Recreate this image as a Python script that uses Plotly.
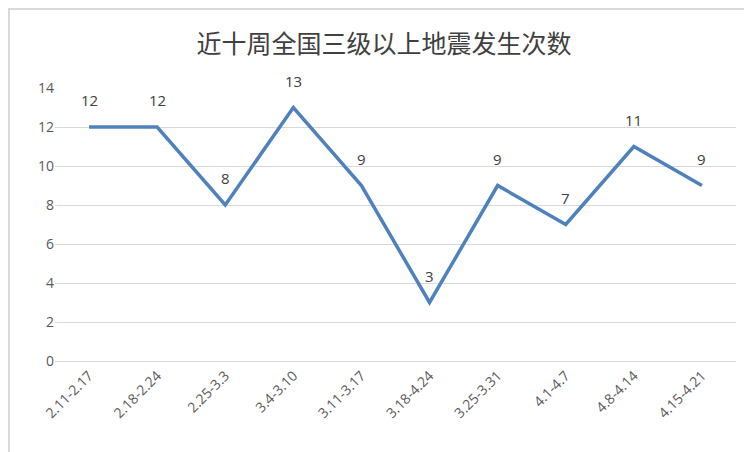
import plotly.graph_objects as go

weeks = ["2.11-2.17","2.18-2.24","2.25-3.3","3.4-3.10","3.11-3.17","3.18-4.24","3.25-3.31","4.1-4.7","4.8-4.14","4.15-4.21"]
counts = [12,12,8,13,9,3,9,7,11,9]

fig = go.Figure(go.Scatter(
    x=weeks, y=counts, mode="lines",
    line=dict(color="#4F81BD", width=3.5), cliponaxis=False))
for w, c in zip(weeks, counts):
    fig.add_annotation(x=w, y=c, text=str(c), showarrow=False, yshift=27,
                       font=dict(family="Open Sans, DejaVu Sans, sans-serif", size=15, color="#404040"))
fig.update_layout(
    width=752, height=452, margin=dict(l=47, r=24, t=80, b=99, autoexpand=False),
    paper_bgcolor="white", plot_bgcolor="white", showlegend=False,
    font=dict(family="Open Sans, DejaVu Sans, sans-serif", color="#595959"),
    title=dict(text="近十周全国三级以上地震发生次数", x=0.5, xanchor="center", y=0.92, yanchor="middle",
               font=dict(family="Noto Sans CJK SC", size=25, color="#404040")),
    shapes=[dict(type="rect", xref="paper", yref="paper", x0=-46/681, x1=1+22/681, y0=-97/273, y1=1+79/273,
                 line=dict(color="#D9D9D9", width=2))])
fig.update_xaxes(range=[-0.5, 9.5], tickangle=-45, tickfont=dict(size=14, color="#595959"), showline=True,
                 linecolor="#D9D9D9", showgrid=False, ticks="", automargin=False)
fig.update_yaxes(range=[0,14], dtick=2, gridcolor="#D9D9D9", zeroline=False, automargin=False,
                 tickfont=dict(size=14, color="#595959"), ticks="", ticklen=8, tickcolor="white")
fig.write_html("out.html")
